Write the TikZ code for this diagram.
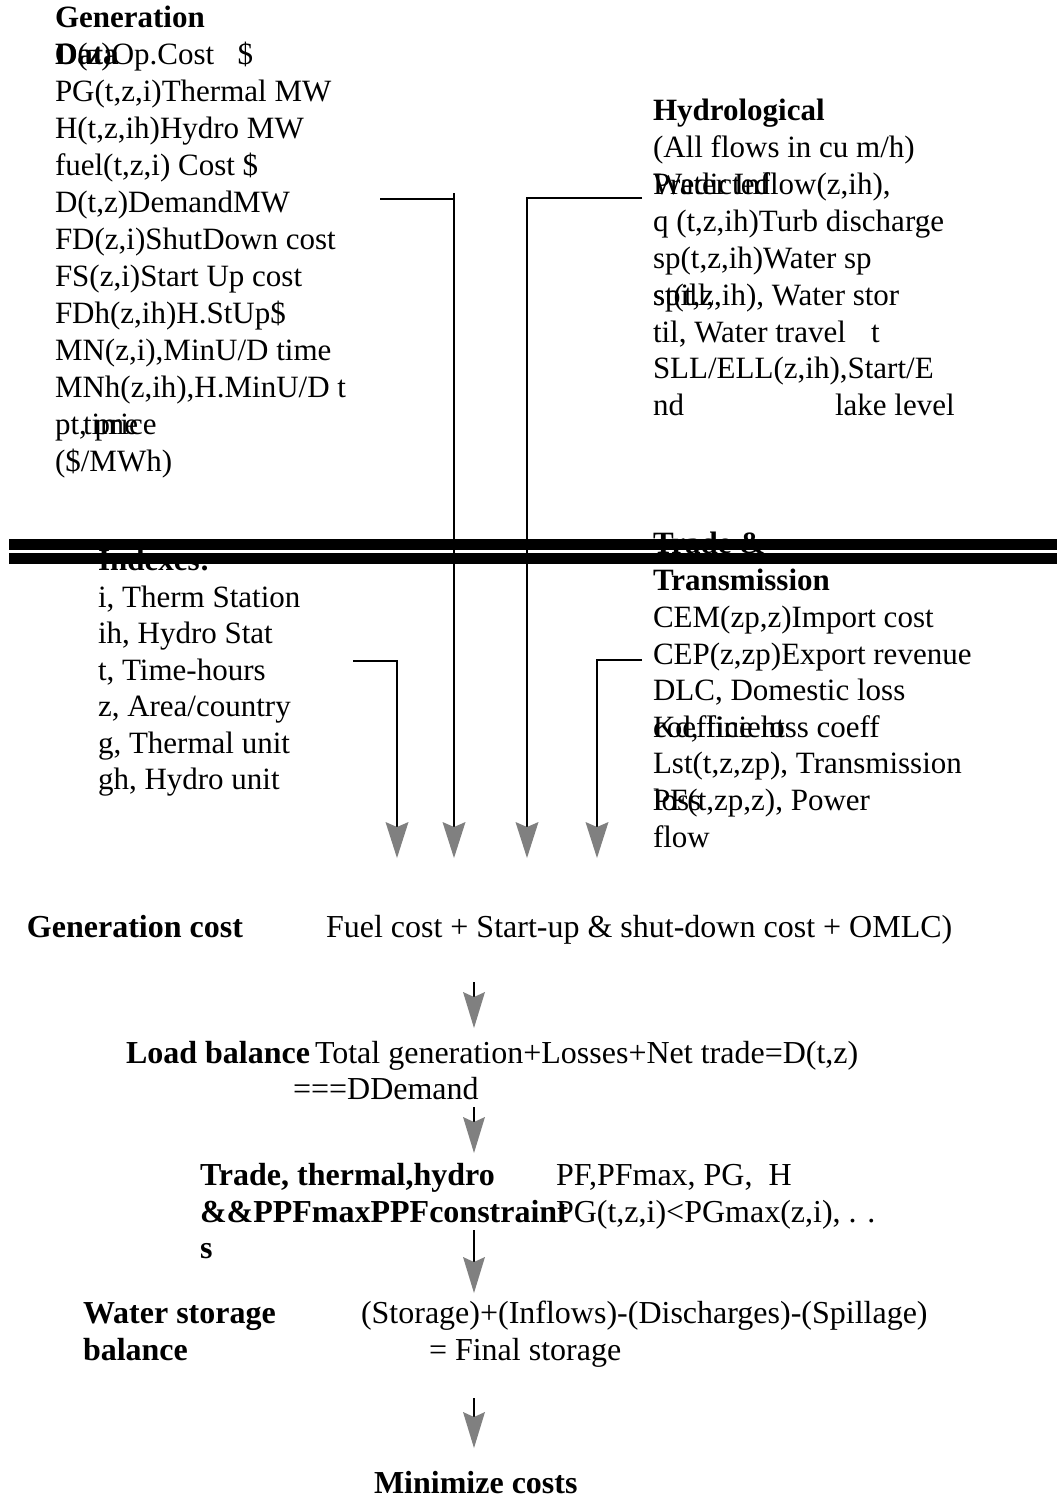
\documentclass[tikz,border=0pt]{standalone}
\usepackage{fontspec}
\setmainfont{Liberation Serif}
\usetikzlibrary{arrows.meta}
\definecolor{headgray}{RGB}{128,128,128}
\newcommand{\fsA}{\fontsize{31}{37}\selectfont}
\newcommand{\fsB}{\fontsize{32}{37}\selectfont}
\begin{document}
\begin{tikzpicture}[x=1pt,y=-1pt,
  txt/.style={anchor=base west, inner sep=0pt, outer sep=0pt, font=\fsA},
  btxt/.style={txt, font=\fsA\bfseries},
  ltxt/.style={txt, font=\fsB},
  lbtxt/.style={txt, font=\fsB\bfseries},
  wire/.style={line width=2.8pt},
  feed/.style={wire, -{Stealth[length=36pt, width=23pt, inset=5pt, line width=0pt, color=headgray]}},
  flowarr/.style={line width=1.8pt, -{Stealth[length=36pt, width=22pt, inset=5pt, line width=0pt, color=headgray]}}
]
\useasboundingbox[fill=white] (0,0) rectangle (1057,1500);

% ---------- Generation data block ----------
\node[btxt] (gd0) at (55,27) {Generation};
\node[btxt] (gd1) at (55,64) {Data};
\node[txt] (gd1b) at (55,64) {O(z)Op.Cost\ \ \ \$};
\node[txt] (gd2) at (55,101) {PG(t,z,i)Thermal MW};
\node[txt] (gd3) at (55,138) {H(t,z,ih)Hydro MW};
\node[txt] (gd4) at (55,175) {fuel(t,z,i) Cost \$};
\node[txt] (gd5) at (55,212) {D(t,z)DemandMW};
\node[txt] (gd6) at (55,249) {FD(z,i)ShutDown cost};
\node[txt] (gd7) at (55,286) {FS(z,i)Start Up cost};
\node[txt] (gd8) at (55,323) {FDh(z,ih)H.StUp\$};
\node[txt] (gd9) at (55,360) {MN(z,i),MinU/D time};
\node[txt] (gd10) at (55,397) {MNh(z,ih),H.MinU/D t};
\node[txt] (gd11) at (55,434) {pt, price};
\node[txt] (gd11b) at (83,434) {time};
\node[txt] (gd12) at (55,471) {(\$/MWh)};

% ---------- Hydrological block ----------
\node[btxt] (hy0) at (653,120) {Hydrological};
\node[txt] (hy1) at (653,157) {(All flows in cu m/h)};
\node[txt] (hy2) at (653,194) {Water Inflow(z,ih),};
\node[txt] (hy2b) at (653,194) {Predicted};
\node[txt] (hy3) at (653,231) {q (t,z,ih)Turb discharge};
\node[txt] (hy4) at (653,268) {sp(t,z,ih)Water sp};
\node[txt] (hy5) at (653,305) {st(t,z,ih), Water stor};
\node[txt] (hy5b) at (653,305) {spill,};
\node[txt] (hy6) at (653,342) {til, Water travel};
\node[txt] (hy6b) at (871,342) {t};
\node[txt] (hy7) at (653,378) {SLL/ELL(z,ih),Start/E};
\node[txt] (hy8) at (653,415) {nd};
\node[txt] (hy8b) at (835,415) {lake level};

% ---------- Indexes block ----------
\node[btxt] (ix0) at (98,570) {Indexes:};
\node[txt] (ix1) at (98,607) {i, Therm Station};
\node[txt] (ix2) at (98,643) {ih, Hydro Stat};
\node[txt] (ix3) at (98,680) {t, Time-hours};
\node[txt] (ix4) at (98,716) {z, Area/country};
\node[txt] (ix5) at (98,753) {g, Thermal unit};
\node[txt] (ix6) at (98,789) {gh, Hydro unit};

% ---------- Trade & Transmission block ----------
\node[btxt] (tr0) at (653,553) {Trade \&};
\node[btxt] (tr1) at (653,590) {Transmission};
\node[txt] (tr2) at (653,627) {CEM(zp,z)Import cost};
\node[txt] (tr3) at (653,664) {CEP(z,zp)Export revenue};
\node[txt] (tr4) at (653,700) {DLC, Domestic loss};
\node[txt] (tr5) at (653,737) {Kd, line loss coeff};
\node[txt] (tr5b) at (653,737) {coefficient};
\node[txt] (tr6) at (653,773) {Lst(t,z,zp), Transmission};
\node[txt] (tr7) at (653,810) {PF(t,zp,z), Power};
\node[txt] (tr7b) at (653,810) {loss};
\node[txt] (tr8) at (653,847) {flow};

% ---------- double separator bar ----------
\fill[black] (9,539) rectangle (1057,549.5);
\fill[black] (9,552.7) rectangle (1057,563.5);

% ---------- feeder connectors ----------
\coordinate (gdout) at (380,199);
\coordinate (gdcorner) at (454,199);
\coordinate (gdtop) at (454,193);
\coordinate (hyout) at (642,198);
\coordinate (ixout) at (353,661);
\coordinate (trout) at (642,660);
\coordinate (t1) at (397,858);
\coordinate (t2) at (454,858);
\coordinate (t3) at (527,858);
\coordinate (t4) at (597,858);
\draw[feed] (ixout) -| (t1);
\draw[wire] (gdout) -- (gdcorner);
\draw[feed] (gdtop) -- (t2);
\draw[feed] (hyout) -| (t3);
\draw[feed] (trout) -| (t4);

% ---------- model steps ----------
\node[lbtxt] (gc) at (27,937) {Generation cost};
\node[ltxt] (gce) at (326,937) {Fuel cost + Start-up \& shut-down cost + OMLC)};

\node[lbtxt] (lb) at (126,1063) {Load balance};
\node[ltxt] (lbe) at (315,1063) {Total generation+Losses+Net trade=D(t,z)};
\node[ltxt] (lbe2) at (293,1099) {===DDemand};

\node[lbtxt] (tc) at (200,1185) {Trade, thermal,hydro};
\node[ltxt] (tce) at (556,1185) {PF,PFmax, PG,\ \ H};
\node[lbtxt] (tc2) at (200,1222) {\&\&PPFmaxPPFconstraint};
\node[ltxt] (tce2) at (556,1222) {PG(t,z,i)<PGmax(z,i), . .};
\node[lbtxt] (tc3) at (200,1258) {s};

\node[lbtxt] (ws) at (83,1323) {Water storage};
\node[lbtxt] (ws2) at (83,1360) {balance};
\node[ltxt] (wse) at (361,1323) {(Storage)+(Inflows)-(Discharges)-(Spillage)};
\node[ltxt] (wse2) at (429,1360) {= Final storage};

\node[lbtxt] (mc) at (374,1493) {Minimize costs};

\coordinate (f1a) at (474,982);  \coordinate (f1b) at (474,1028);
\coordinate (f2a) at (474,1107); \coordinate (f2b) at (474,1153);
\coordinate (f3a) at (474,1230); \coordinate (f3b) at (474,1293);
\coordinate (f4a) at (474,1398); \coordinate (f4b) at (474,1448);
\draw[flowarr] (f1a) -- (f1b);
\draw[flowarr] (f2a) -- (f2b);
\draw[flowarr] (f3a) -- (f3b);
\draw[flowarr] (f4a) -- (f4b);
\end{tikzpicture}
\end{document}
